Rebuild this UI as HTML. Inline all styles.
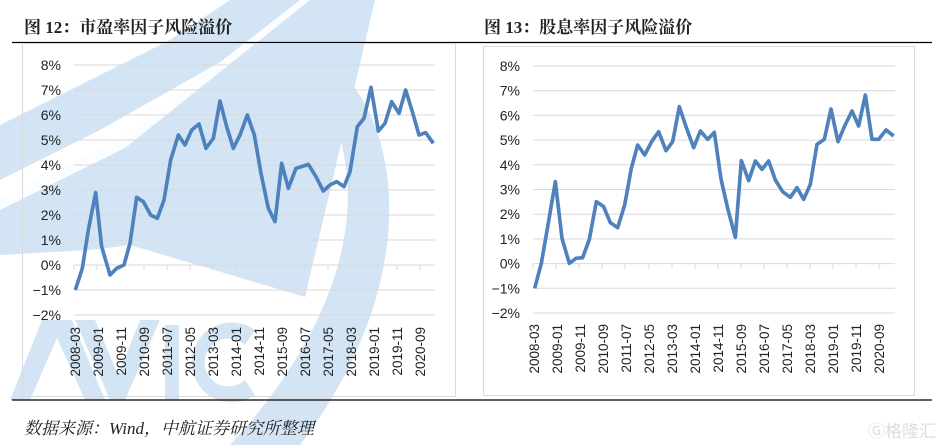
<!DOCTYPE html>
<html><head><meta charset="utf-8"><style>
html,body{margin:0;padding:0;background:#fff;}
svg{display:block;}
</style></head><body>
<svg width="944" height="445" viewBox="0 0 944 445" xmlns="http://www.w3.org/2000/svg">
<!-- watermark -->
<g fill="#d3e5f4">
<polygon points="0,255 0,200 120,140 300,0 375,0 305,297 130,245 90,250"/>
<polygon points="0,125 0,180 100,130 330,0 230,0 170,40"/>
<path d="M345,75 C410,150 410,300 300,445 L230,445 C345,320 370,200 330,110 Z"/>
<polygon points="10,400 42,320 72,320 105,400 85,400 57,338 30,400"/>
<polygon points="75,320 95,320 118,375 140,320 160,320 125,400 110,400"/>
<rect x="165" y="325" width="14" height="75"/>
<path d="M255,330 A40,40 0 1 0 255,395 L245,380 A24,24 0 1 1 245,345 Z"/>
</g>
<polygon points="0,200 120,140 300,0 310,0 125,148 0,210" fill="#fff" opacity="0.9"/>

<!-- titles -->
<text x="24" y="33" font-family="'Liberation Serif','Noto Serif CJK SC',serif" font-size="17" font-weight="bold" fill="#222">图 12：市盈率因子风险溢价</text>
<text x="484" y="33" font-family="'Liberation Serif','Noto Serif CJK SC',serif" font-size="17" font-weight="bold" fill="#222">图 13：股息率因子风险溢价</text>
<line x1="12" y1="42.5" x2="932" y2="42.5" stroke="#000" stroke-width="1.2"/>
<line x1="12" y1="400" x2="932" y2="400" stroke="#000" stroke-width="1.2"/>
<text x="24" y="434" font-family="'Liberation Serif','Noto Serif CJK SC',serif" font-size="17" font-style="italic" fill="#222">数据来源：Wind，中航证券研究所整理</text>
<text x="868" y="437" font-family="'Liberation Sans','Noto Sans CJK SC',sans-serif" font-size="17" fill="#ddd">Ⓖ格隆汇</text>

<!-- left chart frame -->
<rect x="22.5" y="43.5" width="433" height="353" fill="none" stroke="#d9d9d9"/>
<g stroke="#d9d9d9" stroke-width="1">
<line x1="74" y1="65" x2="435" y2="65"/><line x1="74" y1="90" x2="435" y2="90"/><line x1="74" y1="115" x2="435" y2="115"/><line x1="74" y1="140" x2="435" y2="140"/><line x1="74" y1="165" x2="435" y2="165"/><line x1="74" y1="190" x2="435" y2="190"/><line x1="74" y1="215" x2="435" y2="215"/><line x1="74" y1="240" x2="435" y2="240"/><line x1="74" y1="265" x2="435" y2="265"/><line x1="74" y1="290" x2="435" y2="290"/><line x1="74" y1="315" x2="435" y2="315"/>
</g>
<g font-family="'Liberation Sans',sans-serif" font-size="14" fill="#222" text-anchor="end">
<text x="61" y="70">8%</text><text x="61" y="95">7%</text><text x="61" y="120">6%</text><text x="61" y="145">5%</text><text x="61" y="170">4%</text><text x="61" y="195">3%</text><text x="61" y="220">2%</text><text x="61" y="245">1%</text><text x="61" y="270">0%</text><text x="61" y="295">−1%</text><text x="61" y="320">−2%</text>
</g>
<g stroke="#d9d9d9"><path d="M74,265v5M97,265v5M120,265v5M144,265v5M167,265v5M190,265v5M213,265v5M236,265v5M259,265v5M282,265v5M305,265v5M328,265v5M351,265v5M374,265v5M397,265v5M420,265v5"/></g>
<g font-family="'Liberation Sans',sans-serif" font-size="13.5" fill="#222" text-anchor="end">
<text transform="translate(80,327) rotate(-90)">2008-03</text><text transform="translate(103,327) rotate(-90)">2009-01</text><text transform="translate(126,327) rotate(-90)">2009-11</text><text transform="translate(149,327) rotate(-90)">2010-09</text><text transform="translate(172,327) rotate(-90)">2011-07</text><text transform="translate(195,327) rotate(-90)">2012-05</text><text transform="translate(218,327) rotate(-90)">2013-03</text><text transform="translate(241,327) rotate(-90)">2014-01</text><text transform="translate(264,327) rotate(-90)">2014-11</text><text transform="translate(287,327) rotate(-90)">2015-09</text><text transform="translate(310,327) rotate(-90)">2016-07</text><text transform="translate(333,327) rotate(-90)">2017-05</text><text transform="translate(356,327) rotate(-90)">2018-03</text><text transform="translate(379,327) rotate(-90)">2019-01</text><text transform="translate(402,327) rotate(-90)">2019-11</text><text transform="translate(425,327) rotate(-90)">2020-09</text>
</g>
<polyline transform="scale(0.33333)" fill="none" stroke="#4f81bd" stroke-width="11" stroke-linejoin="round" points="226,870 247,805 265,690 287,578 305,740 330,825 350,805 372,795 390,730 410,592 430,605 452,645 472,655 492,600 512,480 535,405 555,435 575,390 597,372 618,445 640,415 660,303 680,380 700,445 720,405 742,345 763,405 783,520 805,625 825,665 845,490 865,565 888,505 905,500 925,493 948,530 970,573 990,555 1010,545 1032,560 1050,515 1072,380 1092,355 1113,262 1135,393 1155,370 1175,305 1197,340 1217,270 1237,335 1257,405 1277,398 1300,430"/>

<!-- right chart -->
<rect x="483.5" y="46.5" width="431" height="349" fill="none" stroke="#d9d9d9"/>
<g stroke="#d9d9d9" stroke-width="1">
<line x1="533" y1="66" x2="895" y2="66"/><line x1="533" y1="90.7" x2="895" y2="90.7"/><line x1="533" y1="115.4" x2="895" y2="115.4"/><line x1="533" y1="140.1" x2="895" y2="140.1"/><line x1="533" y1="164.8" x2="895" y2="164.8"/><line x1="533" y1="189.5" x2="895" y2="189.5"/><line x1="533" y1="214.2" x2="895" y2="214.2"/><line x1="533" y1="238.9" x2="895" y2="238.9"/><line x1="533" y1="263.6" x2="895" y2="263.6"/><line x1="533" y1="288.3" x2="895" y2="288.3"/><line x1="533" y1="313" x2="895" y2="313"/>
</g>
<g font-family="'Liberation Sans',sans-serif" font-size="14" fill="#222" text-anchor="end">
<text x="520" y="71">8%</text><text x="520" y="95.7">7%</text><text x="520" y="120.4">6%</text><text x="520" y="145.1">5%</text><text x="520" y="169.8">4%</text><text x="520" y="194.5">3%</text><text x="520" y="219.2">2%</text><text x="520" y="243.9">1%</text><text x="520" y="268.6">0%</text><text x="520" y="293.3">−1%</text><text x="520" y="318">−2%</text>
</g>
<g stroke="#d9d9d9"><path d="M533,264v5M556,264v5M579,264v5M602,264v5M625,264v5M649,264v5M672,264v5M695,264v5M718,264v5M741,264v5M764,264v5M787,264v5M810,264v5M833,264v5M856,264v5M879,264v5"/></g>
<g font-family="'Liberation Sans',sans-serif" font-size="13.5" fill="#222" text-anchor="end">
<text transform="translate(539,324) rotate(-90)">2008-03</text><text transform="translate(562,324) rotate(-90)">2009-01</text><text transform="translate(585,324) rotate(-90)">2009-11</text><text transform="translate(608,324) rotate(-90)">2010-09</text><text transform="translate(631,324) rotate(-90)">2011-07</text><text transform="translate(654,324) rotate(-90)">2012-05</text><text transform="translate(677,324) rotate(-90)">2013-03</text><text transform="translate(700,324) rotate(-90)">2014-01</text><text transform="translate(723,324) rotate(-90)">2014-11</text><text transform="translate(746,324) rotate(-90)">2015-09</text><text transform="translate(769,324) rotate(-90)">2016-07</text><text transform="translate(792,324) rotate(-90)">2017-05</text><text transform="translate(815,324) rotate(-90)">2018-03</text><text transform="translate(838,324) rotate(-90)">2019-01</text><text transform="translate(861,324) rotate(-90)">2019-11</text><text transform="translate(884,324) rotate(-90)">2020-09</text>
</g>
<polyline transform="translate(472,0) scale(0.33333)" fill="none" stroke="#4f81bd" stroke-width="11" stroke-linejoin="round" points="188,865 208,790 228,675 250,545 270,715 292,790 312,775 332,773 352,718 373,605 395,620 415,668 437,683 458,615 478,505 497,435 518,465 540,423 560,395 582,452 602,425 622,320 642,380 665,443 685,393 707,418 727,397 747,537 767,625 790,712 808,482 830,542 850,483 870,508 890,483 910,540 932,575 955,592 975,563 995,598 1015,553 1035,433 1057,418 1077,327 1098,425 1118,378 1140,333 1160,378 1180,285 1200,418 1220,418 1242,390 1265,408"/>
</svg>
</body></html>
